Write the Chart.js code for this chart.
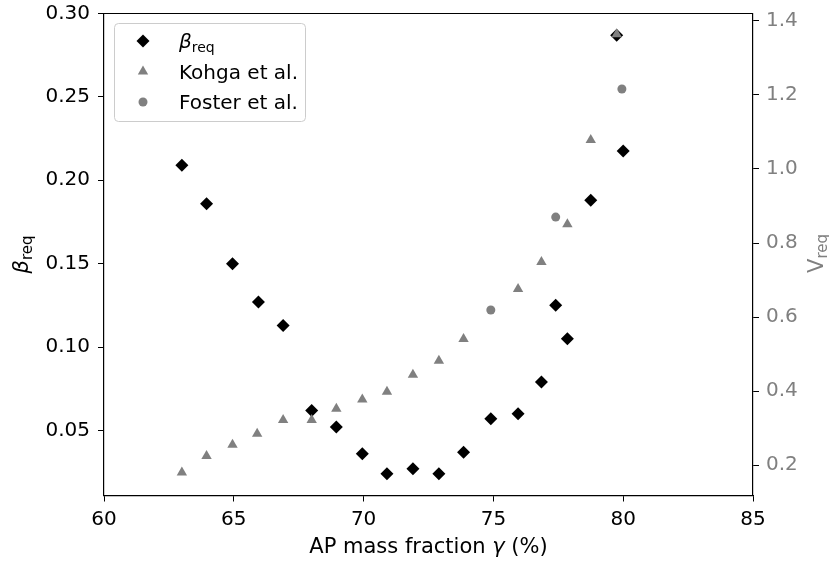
<!DOCTYPE html>
<html>
<head>
<meta charset="utf-8">
<script src="https://cdn.jsdelivr.net/npm/chart.js@4.4.0/dist/chart.umd.min.js"></script>
<style>
  html, body { margin: 0; padding: 0; background: #fff; }
  #wrap { width: 829px; height: 565px; }
</style>
</head>
<body>
<div id="wrap"><canvas id="chart" width="829" height="565"></canvas></div>
<script>
// AP mass fraction (%) and beta_req (left axis)
const betaX = [63, 63.95, 64.95, 65.95, 66.9, 68, 68.95, 69.95, 70.9, 71.9, 72.9, 73.85, 74.9, 75.95, 76.85, 77.4, 77.85, 78.75, 79.75, 80];
const betaReq = [0.209, 0.186, 0.150, 0.127, 0.113, 0.062, 0.052, 0.036, 0.024, 0.027, 0.024, 0.037, 0.057, 0.060, 0.079, 0.125, 0.105, 0.188, 0.287, 0.2175];

// Kohga et al. V_req (right axis)
const kohgaX = [63, 63.95, 64.95, 65.9, 66.9, 68, 68.95, 69.95, 70.9, 71.9, 72.9, 73.85, 75.95, 76.85, 77.85, 78.75, 79.75];
const kohgaV = [0.180, 0.225, 0.255, 0.285, 0.322, 0.322, 0.352, 0.377, 0.398, 0.444, 0.482, 0.541, 0.676, 0.749, 0.851, 1.078, 1.364];

// Foster et al. V_req (right axis)
const fosterX = [74.9, 77.4, 79.95];
const fosterV = [0.619, 0.870, 1.216];

// tick labels
const xTicks = [60, 65, 70, 75, 80, 85];
const betaTicks = [0.05, 0.10, 0.15, 0.20, 0.25, 0.30];
const vTicks = [0.2, 0.4, 0.6, 0.8, 1.0, 1.2, 1.4];

const FONT = '"DejaVu Sans", sans-serif';
const GRAY = '#808080';

function toPoints(xs, ys) {
    return xs.map(function(x, i) { return { x: x, y: ys[i] }; });
}

function setTicks(values) {
    return function(scale) {
        scale.ticks = values.map(function(v) { return { value: v }; });
    };
}

// fixed axis sizes so the plot box lands where the reference has it
function fixWidth(w) {
    return function(s) {
        s.width = w;
        s.paddingTop = 0;
        s.paddingBottom = 0;
    };
}

// draws a run of text pieces (main + subscript etc.) centred on x
function drawParts(ctx, parts, x, y) {
    let total = 0;
    parts.forEach(function(p) {
        ctx.font = p.font;
        p.w = ctx.measureText(p.text).width;
        total += p.w;
    });
    let cx = x - total / 2;
    ctx.textAlign = 'left';
    ctx.textBaseline = 'alphabetic';
    parts.forEach(function(p) {
        ctx.font = p.font;
        ctx.fillText(p.text, cx, y + (p.dy || 0));
        cx += p.w;
    });
}

function drawMarker(ctx, style, x, y, r, color) {
    ctx.fillStyle = color;
    ctx.beginPath();
    if (style === 'rectRot') {
        ctx.moveTo(x, y - r);
        ctx.lineTo(x + r, y);
        ctx.lineTo(x, y + r);
        ctx.lineTo(x - r, y);
    } else if (style === 'triangle') {
        ctx.moveTo(x, y - r);
        ctx.lineTo(x + r * Math.sin(2 * Math.PI / 3), y + r / 2);
        ctx.lineTo(x - r * Math.sin(2 * Math.PI / 3), y + r / 2);
    } else {
        ctx.arc(x, y, r, 0, Math.PI * 2);
    }
    ctx.closePath();
    ctx.fill();
}

const decorations = {
    id: 'decorations',
    afterDraw: function(chart) {
        const ctx = chart.ctx;
        const a = chart.chartArea;
        ctx.save();

        // top spine
        ctx.strokeStyle = '#000';
        ctx.lineWidth = 1.2;
        ctx.beginPath();
        ctx.moveTo(a.left, a.top);
        ctx.lineTo(a.right, a.top);
        ctx.stroke();

        // x axis title
        ctx.fillStyle = '#000';
        drawParts(ctx, [
            { text: 'AP mass fraction ', font: '21px ' + FONT },
            { text: 'γ', font: 'italic 21px ' + FONT },
            { text: ' (%)', font: '21px ' + FONT }
        ], (a.left + a.right) / 2, 553);

        // left axis title
        ctx.save();
        ctx.translate(28, (a.top + a.bottom) / 2);
        ctx.rotate(-Math.PI / 2);
        ctx.fillStyle = '#000';
        drawParts(ctx, [
            { text: 'β', font: 'italic 21px ' + FONT },
            { text: 'req', font: '15px ' + FONT, dy: 4 }
        ], 0, 0);
        ctx.restore();

        // right axis title
        ctx.save();
        ctx.translate(823, (a.top + a.bottom) / 2 - 1);
        ctx.rotate(-Math.PI / 2);
        ctx.fillStyle = GRAY;
        drawParts(ctx, [
            { text: 'V', font: '21px ' + FONT },
            { text: 'req', font: '15px ' + FONT, dy: 4 }
        ], 0, 0);
        ctx.restore();

        // legend
        const lx = a.left + 10, ly = a.top + 9.5, lw = 191, lh = 98;
        ctx.fillStyle = 'rgba(255,255,255,0.8)';
        ctx.strokeStyle = '#cccccc';
        ctx.lineWidth = 1;
        ctx.beginPath();
        ctx.roundRect(lx + 0.5, ly + 0.5, lw, lh, 4);
        ctx.fill();
        ctx.stroke();

        const rows = [
            { style: 'rectRot', r: 6.5, color: '#000', parts: [
                { text: 'β', font: 'italic 20px ' + FONT },
                { text: 'req', font: '14px ' + FONT, dy: 4 }
            ] },
            { style: 'triangle', r: 6, color: GRAY, parts: [{ text: 'Kohga et al.', font: '20px ' + FONT }] },
            { style: 'circle', r: 4.5, color: GRAY, parts: [{ text: 'Foster et al.', font: '20px ' + FONT }] }
        ];
        rows.forEach(function(row, i) {
            const ry = ly + 18 + i * 30.5;
            drawMarker(ctx, row.style, lx + 29, ry, row.r, row.color);
            ctx.fillStyle = '#000';
            let cx = lx + 65;
            row.parts.forEach(function(p) {
                ctx.font = p.font;
                ctx.textAlign = 'left';
                ctx.textBaseline = 'alphabetic';
                ctx.fillText(p.text, cx, ry + 7 + (p.dy || 0));
                cx += ctx.measureText(p.text).width;
            });
        });

        ctx.restore();
    }
};

new Chart(document.getElementById('chart'), {
    type: 'scatter',
    data: {
        datasets: [
            {
                label: 'beta_req',
                data: toPoints(betaX, betaReq),
                yAxisID: 'y',
                pointStyle: 'rectRot',
                pointRadius: 6.5,
                pointHoverRadius: 6.5,
                backgroundColor: '#000',
                borderColor: '#000',
                borderWidth: 0,
                order: 3
            },
            {
                label: 'Kohga et al.',
                data: toPoints(kohgaX, kohgaV),
                yAxisID: 'y1',
                pointStyle: 'triangle',
                pointRadius: 6,
                pointHoverRadius: 6,
                backgroundColor: GRAY,
                borderColor: GRAY,
                borderWidth: 0,
                order: 2
            },
            {
                label: 'Foster et al.',
                data: toPoints(fosterX, fosterV),
                yAxisID: 'y1',
                pointStyle: 'circle',
                pointRadius: 4.5,
                pointHoverRadius: 4.5,
                backgroundColor: GRAY,
                borderColor: GRAY,
                borderWidth: 0,
                order: 1
            }
        ]
    },
    options: {
        responsive: false,
        animation: false,
        devicePixelRatio: 1,
        layout: { padding: { top: 13.5, left: 0, right: 0, bottom: 0 } },
        plugins: {
            legend: { display: false },
            tooltip: { enabled: false }
        },
        scales: {
            x: {
                type: 'linear',
                position: 'bottom',
                min: 60,
                max: 85,
                afterBuildTicks: setTicks(xTicks),
                afterFit: function(s) { s.height = 69.5; s.paddingLeft = 0; s.paddingRight = 0; },
                border: { display: true, color: '#000', width: 1.2 },
                grid: { drawOnChartArea: false, drawTicks: true, tickLength: 6, color: '#000', tickWidth: 1 },
                ticks: {
                    color: '#000',
                    padding: 6,
                    maxRotation: 0,
                    font: { family: FONT, size: 20 },
                    callback: function(v) { return v.toFixed(0); }
                }
            },
            y: {
                type: 'linear',
                position: 'left',
                min: 0.011,
                max: 0.30,
                afterBuildTicks: setTicks(betaTicks),
                afterFit: fixWidth(104),
                border: { display: true, color: '#000', width: 1.2 },
                grid: { drawOnChartArea: false, drawTicks: true, tickLength: 6, color: '#000', tickWidth: 1 },
                ticks: {
                    color: '#000',
                    padding: 8,
                    font: { family: FONT, size: 20 },
                    callback: function(v) { return v.toFixed(2); }
                }
            },
            y1: {
                type: 'linear',
                position: 'right',
                min: 0.118,
                max: 1.42,
                afterBuildTicks: setTicks(vTicks),
                afterFit: fixWidth(76),
                border: { display: true, color: '#000', width: 1.2 },
                grid: { drawOnChartArea: false, drawTicks: true, tickLength: 6, color: '#000', tickWidth: 1 },
                ticks: {
                    color: GRAY,
                    padding: 7,
                    font: { family: FONT, size: 20 },
                    callback: function(v) { return v.toFixed(1); }
                }
            }
        }
    },
    plugins: [decorations]
});
</script>
</body>
</html>
